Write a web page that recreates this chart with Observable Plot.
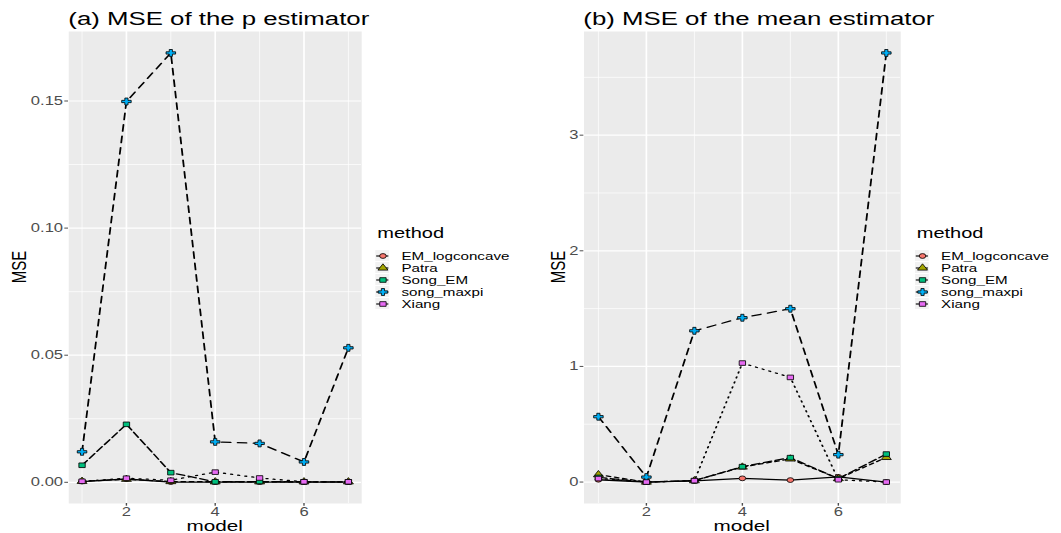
<!DOCTYPE html>
<html>
<head>
<meta charset="utf-8">
<script src="https://cdn.jsdelivr.net/npm/d3@7"></script>
<script src="https://cdn.jsdelivr.net/npm/@observablehq/plot@0.6"></script>
<style>
  body { margin: 0; background: white; }
  #root { position: relative; width: 768.8px; height: 533px; transform: scaleX(1.38); transform-origin: 0 0;
          font-family: "Liberation Sans", Arial, sans-serif; color: black; }
  .abs { position: absolute; white-space: nowrap; line-height: 1; }
  .title { font-size: 18.7px; }
  .axtitle { font-size: 15px; }
  .legtitle { font-size: 14.5px; }
  .ylab { transform: translate(-50%, -50%) rotate(-90deg); }
  .xlab { transform: translateX(-50%); }
</style>
</head>
<body>
<div id="root"></div>
<script>
// ---------- data ----------
const models = [1, 2, 3, 4, 5, 6, 7];
const methods = ["EM_logconcave", "Patra", "Song_EM", "song_maxpi", "Xiang"];
const methodColors = ["#F8766D", "#A3A500", "#00BF7D", "#00B0F6", "#E76BF3"];
const methodSymbols = ["circle", "triangle", "square", "cross", "square"];

// (a) MSE of the p estimator
const pEMlogconcave = [0.0003, 0.0013, 0.0001, 0.0001, 0.0001, 0.0001, 0.0001];
const pPatra        = [0.0004, 0.0012, 0.0003, 0.0002, 0.0002, 0.0002, 0.0002];
const pSongEM       = [0.0067, 0.0228, 0.0038, 0.0002, 0.0003, 0.0002, 0.0002];
const pSongMaxpi    = [0.0120, 0.1498, 0.1689, 0.0159, 0.0153, 0.0080, 0.0529];
const pXiang        = [0.0004, 0.0016, 0.0008, 0.0040, 0.0017, 0.0002, 0.0002];

// (b) MSE of the mean estimator
const mEMlogconcave = [0.020, 0.000, 0.010, 0.032, 0.017, 0.045, 0.000];
const mPatra        = [0.064, 0.000, 0.012, 0.130, 0.200, 0.030, 0.213];
const mSongEM       = [0.040, 0.000, 0.012, 0.133, 0.211, 0.030, 0.242];
const mSongMaxpi    = [0.565, 0.043, 1.308, 1.421, 1.499, 0.237, 3.711];
const mXiang        = [0.030, 0.000, 0.012, 1.029, 0.905, 0.020, 0.000];

// tick labels
const modelTicks = [2, 4, 6];
const modelMinor = [1, 3, 5, 7];
const pTicks = [0, 0.05, 0.10, 0.15];
const pMinor = [0.025, 0.075, 0.125];
const mTicks = [0, 1, 2, 3];
const mMinor = [0.5, 1.5, 2.5, 3.5];

const titleA = "(a) MSE of the p estimator";
const titleB = "(b) MSE of the mean estimator";
const xTitle = "model";
const yTitle = "MSE";
const legendTitle = "method";

// ---------- styles ----------
const dashes = {EM_logconcave: null, Patra: "3,3", Song_EM: "6,2.8", song_maxpi: "6.5,5", Xiang: "1.2,4"};
const radii = {EM_logconcave: 2.4, Patra: 2.7, Song_EM: 2.6, song_maxpi: 2.9, Xiang: 2.6};
const FONT = "'Liberation Sans', Arial, sans-serif";

function rowsOf(series) {
  return methods.flatMap((m, i) => models.map((x, j) => ({model: x, method: m, value: series[i][j]})));
}
function expand(ext, f = 0.05) {
  const p = (ext[1] - ext[0]) * f;
  return [ext[0] - p, ext[1] + p];
}

function panel({rows, major, minor, fmt, width, marginLeft, marginRight}) {
  const marks = [
    Plot.frame({fill: "#EBEBEB", stroke: null}),
    Plot.ruleY(minor, {stroke: "white", strokeWidth: 0.6}),
    Plot.ruleX(modelMinor, {stroke: "white", strokeWidth: 0.6}),
    Plot.ruleY(major, {stroke: "white", strokeWidth: 1.2}),
    Plot.ruleX(modelTicks, {stroke: "white", strokeWidth: 1.2}),
  ];
  for (const m of methods) {
    const d = rows.filter(r => r.method === m);
    marks.push(Plot.line(d, {x: "model", y: "value", stroke: "black", strokeWidth: 1.3,
      strokeDasharray: dashes[m] ?? undefined}));
  }
  for (const m of methods) {
    const d = rows.filter(r => r.method === m);
    marks.push(Plot.dot(d, {x: "model", y: "value", fill: "method", symbol: "method",
      stroke: "black", strokeWidth: 0.7, r: radii[m]}));
  }
  marks.push(Plot.axisX(modelTicks, {tickSize: 2.7, tickPadding: 1, fontSize: 12, color: "#4D4D4D", label: null}));
  marks.push(Plot.axisY(major, {tickSize: 2.7, tickPadding: 1.4, fontSize: 12, color: "#4D4D4D", label: null, tickFormat: fmt}));
  return Plot.plot({
    width, height: 507, marginLeft, marginRight, marginTop: 5, marginBottom: 30,
    style: {fontFamily: FONT, background: "transparent", overflow: "visible"},
    x: {domain: expand(d3.extent(models)), label: null},
    y: {domain: expand(d3.extent(rows, r => r.value)), label: null},
    color: {domain: methods, range: methodColors},
    symbol: {domain: methods, range: methodSymbols},
    marks
  });
}

function legend() {
  const marks = [
    Plot.barX(methods, {y: d => d, x1: 0, x2: 10, fill: "#F2F2F2"}),
    Plot.ruleY(methods, {y: d => d, x1: 0.6, x2: 9.4, stroke: "black", strokeWidth: 1.1}),
  ];
  for (const m of methods) {
    marks.push(Plot.dot([m], {x: 5, y: d => d, fill: d => d, symbol: d => d, stroke: "black",
      strokeWidth: 0.7, r: radii[m]}));
  }
  marks.push(Plot.text(methods, {x: 18.4, y: d => d, text: d => d, textAnchor: "start", fontSize: 11, fill: "black"}));
  return Plot.plot({
    width: 106, height: 66, margin: 0,
    style: {fontFamily: FONT, background: "transparent", overflow: "visible"},
    x: {domain: [0, 106], range: [0, 106], axis: null},
    y: {type: "band", domain: methods, range: [2.0, 65.0], padding: 0.08, axis: null},
    color: {domain: methods, range: methodColors},
    symbol: {domain: methods, range: methodSymbols},
    marks
  });
}

const root = document.getElementById("root");
function place(el, left, top) {
  el.style.position = "absolute";
  el.style.left = left + "px";
  el.style.top = top + "px";
  root.appendChild(el);
  return el;
}
function label(text, cls, left, top) {
  const d = document.createElement("div");
  d.className = "abs " + cls;
  d.textContent = text;
  return place(d, left, top);
}

const rowsA = rowsOf([pEMlogconcave, pPatra, pSongEM, pSongMaxpi, pXiang]);
const rowsB = rowsOf([mEMlogconcave, mPatra, mSongEM, mSongMaxpi, mXiang]);

place(panel({rows: rowsA, major: pTicks, minor: pMinor, fmt: d3.format(".2f"), width: 270, marginLeft: 49.3, marginRight: 8.4}), 0, 26);
place(panel({rows: rowsB, major: mTicks, minor: mMinor, fmt: d3.format("d"), width: 280, marginLeft: 42.7, marginRight: 7.8}), 380, 26);

label(titleA, "title", 49.5, 10.4);
label(titleB, "title", 422.7, 10.4);
label(yTitle, "axtitle ylab", 13.4, 267);
label(yTitle, "axtitle ylab", 403.6, 267);
label(xTitle, "axtitle xlab", 155.5, 518.3);
label(xTitle, "axtitle xlab", 537.5, 518.3);

label(legendTitle, "legtitle", 273.4, 226);
label(legendTitle, "legtitle", 664.3, 226);
place(legend(), 272.3, 246);
place(legend(), 662.9, 246);
</script>
</body>
</html>
